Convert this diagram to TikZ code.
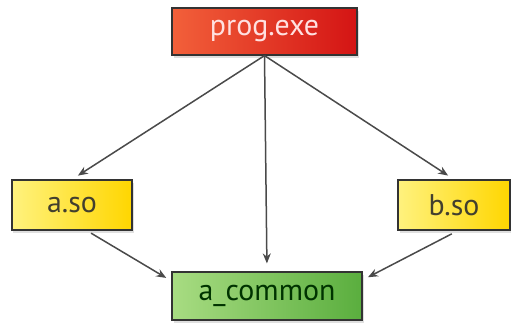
\documentclass[tikz,border=0pt]{standalone}
\usepackage{fontspec}
\setmainfont{PT Sans}
\usetikzlibrary{arrows.meta, shadows, positioning}
\definecolor{progL}{HTML}{F2603A}
\definecolor{progR}{HTML}{D41414}
\definecolor{soL}{HTML}{FFF27E}
\definecolor{soR}{HTML}{FFD600}
\definecolor{comL}{HTML}{A8DC82}
\definecolor{comR}{HTML}{5AAE3E}
\definecolor{edge}{HTML}{4A4A4A}

\begin{document}
\begin{tikzpicture}[x=1bp, y=-1bp,
    box/.style={draw=black!80, line width=1.2bp, inner sep=0pt,
        font=\fontsize{30}{33}\selectfont, shading=axis, shading angle=90,
        drop shadow={opacity=0.25, shadow xshift=1.5bp, shadow yshift=-3bp}},
    link/.style={draw=edge, line width=1.5bp, -{Stealth[length=10bp, width=8bp]}}]
    % page size
    \useasboundingbox (0,0) rectangle (511,328);

    % Boxes
    \node[box, left color=progL, right color=progR, text=red!12,
        minimum width=185bp, minimum height=47bp] (prog) at (264.5,31.5) {prog.exe};
    \node[box, left color=soL, right color=soR, text=black!70!olive,
        minimum width=120bp, minimum height=50bp] (aso) at (72,205) {a.so};
    \node[box, left color=soL, right color=soR, text=black!70!olive,
        minimum width=112bp, minimum height=50bp] (bso) at (454,205) {b.so};
    \node[box, left color=comL, right color=comR, text=green!20!black,
        minimum width=190bp, minimum height=48bp] (acommon) at (267,296) {a\_common};

    % Dependencies
    \draw[link, shorten >=7bp] (prog.south) -- (aso.north);
    \draw[link, shorten >=8bp] (prog.south) -- (acommon.north);
    \draw[link, shorten >=7bp] (prog.south) -- (bso.north);
    \draw[link, shorten <=5bp, shorten >=6bp] (aso.-60) -- ([yshift=15bp]acommon.west);
    \draw[link, shorten <=7bp, shorten >=6bp] ([xshift=4bp]bso.south) -- ([yshift=16bp]acommon.east);
\end{tikzpicture}
\end{document}
